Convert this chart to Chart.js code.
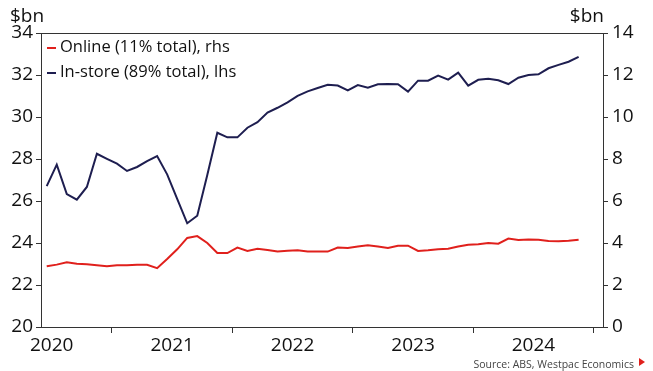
<!DOCTYPE html>
<html lang="en">
<head>
<meta charset="UTF-8">
<meta name="viewport" content="width=device-width, initial-scale=1.0">
<title>Online vs in-store retail sales</title>
<script src="https://cdn.jsdelivr.net/npm/chart.js@4.4.1/dist/chart.umd.min.js"></script>
<style>
  body { margin: 0; background: #fff; font-family: "Open Sans", sans-serif; }
  .wrap { position: relative; width: 653px; height: 371px; }
  .unit { position: absolute; top: 2px; font-size: 19px; color: #111; }
  .legend { position: absolute; left: 47px; font-size: 16.5px; color: #111; line-height: 20px; }
  .legend span.key { display: inline-block; width: 9px; height: 2px; vertical-align: middle; margin-right: 4px; }
  .source { position: absolute; right: 19px; bottom: 0px; font-size: 10.5px; color: #444; }
  .tri { position: absolute; right: 8px; bottom: 5px; width: 0; height: 0;
         border-top: 4px solid transparent; border-bottom: 4px solid transparent; border-left: 6px solid #e0201c; }
</style>
</head>
<body>
<div class="wrap">
  <canvas id="salesChart" width="653" height="371"></canvas>
  <div class="unit" style="left:10px">$bn</div>
  <div class="unit" style="right:49px">$bn</div>
  <div class="legend" style="top:36px"><span class="key" style="background:#e0201c"></span>Online (11% total), rhs</div>
  <div class="legend" style="top:61px"><span class="key" style="background:#1e1e50"></span>In-store (89% total), lhs</div>
  <div class="source">Source: ABS, Westpac Economics</div>
  <div class="tri"></div>
</div>

<script>
// monthly, Jan 2020 - Jun 2024
const yearLabels = ['2020', '2021', '2022', '2023', '2024'];

// in-store sales, $bn (lhs)
const inStore = [
  26.71, 27.73, 26.33, 26.06, 26.67, 28.25, 28.01, 27.78, 27.43, 27.62, 27.90, 28.14,
  27.27, 26.10, 24.94, 25.30, 27.24, 29.25, 29.03, 29.03, 29.49, 29.75, 30.21, 30.44,
  30.70, 31.01, 31.22, 31.38, 31.53, 31.50, 31.27, 31.52, 31.40, 31.56, 31.57, 31.56,
  31.21, 31.73, 31.73, 31.97, 31.78, 32.11, 31.49, 31.77, 31.82, 31.75, 31.57, 31.87,
  32.00, 32.03, 32.32, 32.48, 32.63, 32.86
];

// online sales, $bn (rhs)
const online = [
  2.89, 2.97, 3.08, 3.01, 2.99, 2.94, 2.89, 2.94, 2.94, 2.97, 2.96, 2.80,
  3.24, 3.70, 4.24, 4.33, 4.00, 3.52, 3.52, 3.78, 3.62, 3.73, 3.67, 3.59,
  3.63, 3.65, 3.59, 3.59, 3.59, 3.78, 3.76, 3.83, 3.89, 3.83, 3.76, 3.87,
  3.87, 3.62, 3.65, 3.70, 3.73, 3.83, 3.92, 3.94, 4.00, 3.97, 4.21, 4.14,
  4.17, 4.16, 4.10, 4.08, 4.11, 4.16
];

const toXY = arr => arr.map((v, i) => ({ x: i, y: v }));

// draws the frame round the plot area
const frame = {
  id: 'frame',
  afterDraw(chart) {
    const { ctx, chartArea: a } = chart;
    ctx.save();
    ctx.strokeStyle = '#333';
    ctx.lineWidth = 1;
    ctx.strokeRect(a.left + 0.5, a.top + 0.5, a.right - a.left, a.bottom - a.top);
    ctx.restore();
  }
};

const tickFont = { family: '"Open Sans", sans-serif', size: 19 };

new Chart(document.getElementById('salesChart'), {
  type: 'line',
  data: {
    datasets: [
      { label: 'In-store (89% total), lhs', data: toXY(inStore), yAxisID: 'y',
        borderColor: '#1e1e50', borderWidth: 2, pointRadius: 0, tension: 0 },
      { label: 'Online (11% total), rhs', data: toXY(online), yAxisID: 'y2',
        borderColor: '#e0201c', borderWidth: 2, pointRadius: 0, tension: 0 }
    ]
  },
  options: {
    responsive: false,
    animation: false,
    layout: { padding: { top: 33, left: 0, right: 0, bottom: 0 } },
    plugins: { legend: { display: false }, tooltip: { enabled: false } },
    scales: {
      x: {
        type: 'linear',
        min: -0.57,
        max: 55.43,
        afterBuildTicks: s => {
          const t = [];
          for (let v = 0.5; v <= 55; v += 6) t.push({ value: v });
          s.ticks = t;
        },
        afterFit: s => { s.height = 44; },
        border: { display: false },
        grid: {
          drawOnChartArea: false,
          tickLength: 6,
          color: c => ((c.tick.value - 0.5) % 12 === 0) ? 'rgba(0,0,0,0)' : '#333'
        },
        ticks: {
          autoSkip: false,
          maxRotation: 0,
          padding: 1,
          color: '#111',
          font: tickFont,
          callback: v => ((v - 0.5) % 12 === 0) ? yearLabels[(v - 0.5) / 12] : ''
        }
      },
      y: {
        position: 'left',
        min: 20, max: 34,
        afterFit: s => { s.width = 41; },
        border: { display: false },
        grid: { drawOnChartArea: false, tickLength: 5, color: '#333' },
        ticks: { stepSize: 2, padding: 3, color: '#111', font: tickFont }
      },
      y2: {
        position: 'right',
        min: 0, max: 14,
        afterFit: s => { s.width = 50; },
        border: { display: false },
        grid: { drawOnChartArea: false, tickLength: 5, color: '#333' },
        ticks: { stepSize: 2, padding: 4, color: '#111', font: tickFont }
      }
    }
  },
  plugins: [frame]
});
</script>
</body>
</html>
